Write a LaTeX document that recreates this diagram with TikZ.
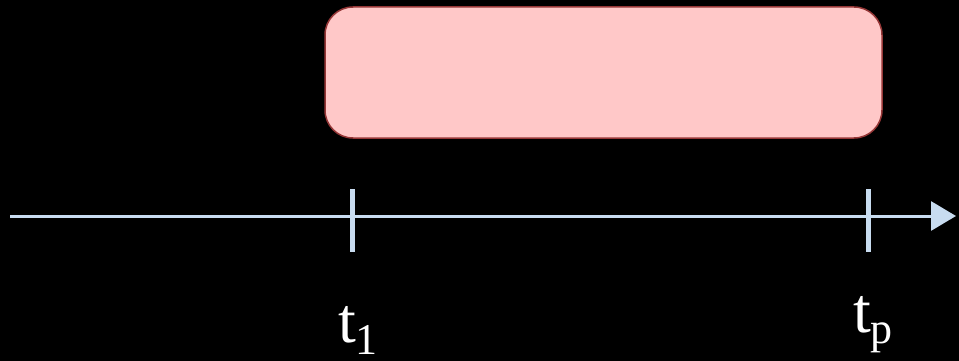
\documentclass[tikz,border=0pt]{standalone}
\usepackage{fontspec}
\setmainfont{Liberation Serif}
\usetikzlibrary{arrows.meta}
\definecolor{axisblue}{RGB}{200,220,240}
\definecolor{boxfill}{RGB}{255,200,200}
\definecolor{boxedge}{RGB}{150,55,55}
\begin{document}
\begin{tikzpicture}[x=1pt,y=-1pt,
  axisline/.style={draw=axisblue,line width=3pt},
  tickmark/.style={draw=axisblue,line width=5pt},
  interval/.style={draw=boxedge,line width=1.5pt,fill=boxfill,rounded corners=28pt},
  lbl/.style={text=white,anchor=base west,inner sep=0pt,font=\fontsize{64}{64}\selectfont}]
\fill[black] (0,0) rectangle (959,361);
\useasboundingbox (0,0) rectangle (959,361);
\path[interval] (325,7) rectangle (882,138);
\coordinate (start) at (10,216);
\coordinate (end) at (956,216);
\draw[axisline,-{Triangle[length=25pt,width=29pt]}] (start) -- (end);
\draw[tickmark] (352,189) -- (352,252);
\draw[tickmark] (868,189) -- (868,252);
\node[lbl] (t1) at (338,342) {t\raisebox{-12pt}[\height][0pt]{\fontsize{44}{44}\selectfont 1}};
\node[lbl] (tp) at (853,332) {t\raisebox{-11pt}[\height][0pt]{\fontsize{44}{44}\selectfont p}};
\end{tikzpicture}
\end{document}
